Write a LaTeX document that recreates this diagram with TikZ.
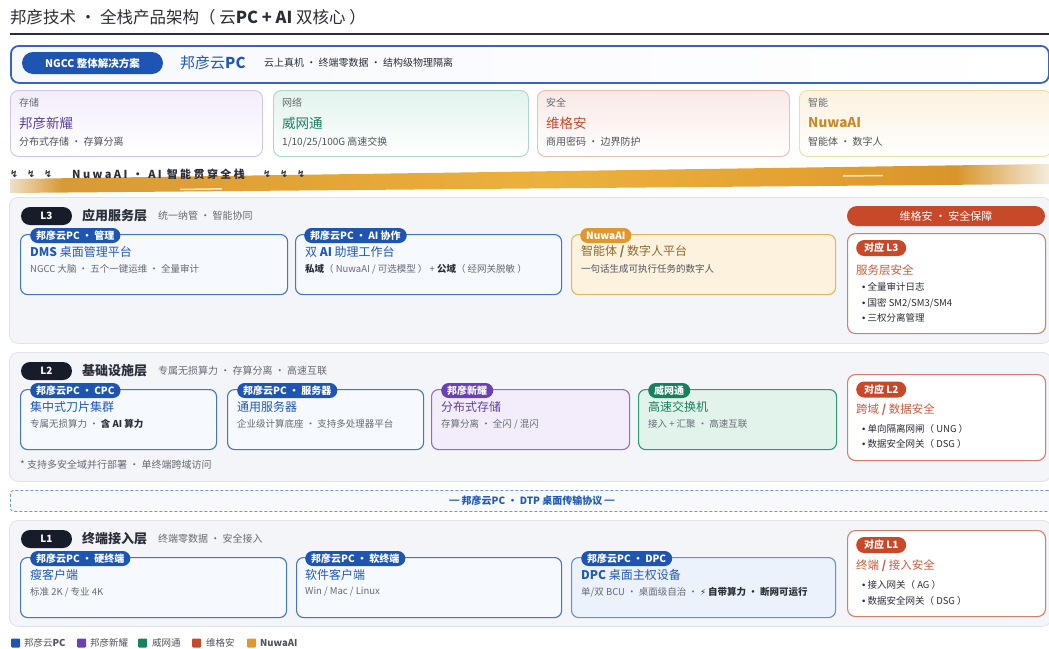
\documentclass[tikz,border=0pt]{standalone}
\usepackage{fontspec}
\setmainfont{Noto Sans CJK SC}
\newfontfamily\djv{DejaVu Sans}
\newfontfamily\lib{Liberation Sans}
\newfontfamily\spacedfont[LetterSpace=22]{Noto Sans CJK SC}
\newcommand\bul{{\lib •}\ }
\definecolor{ink}{HTML}{2A2E38}
\definecolor{gray6}{HTML}{666A72}
\definecolor{gray5}{HTML}{50545C}
\definecolor{blueTag}{HTML}{1F55B2}
\definecolor{blueT}{HTML}{2159B5}
\definecolor{blueBd}{HTML}{4474C4}
\definecolor{blueBg}{HTML}{F6F9FE}
\definecolor{dpcBg}{HTML}{ECF2FC}
\definecolor{dpcBd}{HTML}{6190D8}
\definecolor{purTag}{HTML}{6A40B5}
\definecolor{purBd}{HTML}{8E6CC8}
\definecolor{purBg}{HTML}{F3EDFB}
\definecolor{purT}{HTML}{5E3FA0}
\definecolor{grnTag}{HTML}{17805C}
\definecolor{grnBd}{HTML}{2E9A72}
\definecolor{grnBg}{HTML}{E2F3EC}
\definecolor{grnT}{HTML}{17805C}
\definecolor{orgTag}{HTML}{E0982E}
\definecolor{orgBd}{HTML}{E2B75A}
\definecolor{orgBg}{HTML}{FCF2DE}
\definecolor{orgT}{HTML}{93692A}
\definecolor{redTag}{HTML}{C8482A}
\definecolor{redBd}{HTML}{D77B6A}
\definecolor{redT}{HTML}{C85A40}
\definecolor{panelBg}{HTML}{F3F5F9}
\definecolor{panelBd}{HTML}{DEE2E9}
\definecolor{pillDark}{HTML}{161C29}
\definecolor{bandL}{HTML}{EFE0C6}
\definecolor{bandA}{HTML}{D89A35}
\definecolor{bandB}{HTML}{E3A436}
\definecolor{bandC}{HTML}{ECB13D}
\definecolor{bandD}{HTML}{E3A232}
\definecolor{bandE}{HTML}{D8952A}
\definecolor{bandR}{HTML}{F4ECDD}
\pgfdeclarehorizontalshading{bandshade}{100bp}{color(0bp)=(bandL); color(25bp)=(bandL); color(27.5bp)=(bandA); color(39bp)=(bandB); color(51bp)=(bandC); color(63bp)=(bandD); color(70.5bp)=(bandE); color(75bp)=(bandR); color(100bp)=(bandR)}
\tikzset{
  txt/.style={inner sep=0pt, anchor=west},
  panel/.style={anchor=north west, inner sep=0pt, rounded corners=9pt, fill=panelBg, draw=panelBd, line width=0.8pt},
  lpill/.style={fill=pillDark, rounded corners=9pt, minimum width=51pt, minimum height=18pt, inner sep=0pt, text=white, font=\fontsize{10}{12}\selectfont\bfseries},
  ltitle/.style={txt, text=ink, font=\fontsize{13}{15}\selectfont\bfseries},
  lsub/.style={txt, text=gray6, font=\fontsize{10}{12}\selectfont},
  card/.style={anchor=north west, inner sep=0pt, rounded corners=7pt, line width=1.1pt},
  tag/.style={anchor=west, inner xsep=6pt, inner ysep=0pt, minimum height=15pt, rounded corners=7.5pt, text=white, font=\fontsize{10}{12}\selectfont\bfseries},
  ctitle/.style={txt, font=\fontsize{12}{14}\selectfont},
  csub/.style={txt, text=gray6, font=\fontsize{9.5}{11}\selectfont},
  topcard/.style={anchor=north west, inner sep=0pt, rounded corners=8pt, line width=0.9pt, minimum height=66pt, bottom color=white},
  tclabel/.style={txt, text=gray6, font=\fontsize{10}{12}\selectfont},
  tcname/.style={txt, font=\fontsize{13.5}{16}\selectfont},
  tcsub/.style={txt, text=gray5, font=\fontsize{10}{12}\selectfont},
  secbox/.style={anchor=north west, inner sep=0pt, rounded corners=8pt, fill=white, draw=redBd, line width=1.1pt, minimum width=198pt},
  sectag/.style={anchor=west, fill=redTag, rounded corners=8pt, minimum width=50pt, minimum height=16pt, inner sep=0pt, text=white, font=\fontsize{10}{12}\selectfont\bfseries},
  sechead/.style={txt, text=redT, font=\fontsize{11.5}{14}\selectfont},
  bullet/.style={txt, text=ink, font=\fontsize{9.5}{11}\selectfont},
  legsq/.style={anchor=west, minimum width=9pt, minimum height=9pt, inner sep=0pt, rounded corners=1pt},
  legtx/.style={txt, text=gray5, font=\fontsize{9.5}{11}\selectfont},
  bolt/.style={txt, text=ink, font=\djv\fontsize{9.5}{10}\selectfont\bfseries}
}
\begin{document}
\begin{tikzpicture}[x=1pt,y=-1pt]
\useasboundingbox (0,0) rectangle (1049,648);
\fill[white] (0,0) rectangle (1049,648);

% title
\node[txt, text=ink, font=\fontsize{16.5}{19}\selectfont] (title) at (10,17) {邦彦技术 · 全栈产品架构（ 云{\bfseries PC + AI} 双核心 ）};
\coordinate (ruleL) at (10,34);
\coordinate (ruleR) at (1049,34);
\draw[ink, line width=2pt] (ruleL) -- (ruleR);

% top bar
\node[anchor=north west, inner sep=0pt, minimum width=1038pt, minimum height=37pt, rounded corners=8pt, left color=blueBg!80!blueBd!20, right color=white, draw=blueTag!90, line width=1.8pt] (topbar) at (10,45) {};
\node[fill=blueTag, rounded corners=11pt, minimum width=141pt, minimum height=22pt, inner sep=0pt, text=white, font=\fontsize{10.5}{12}\selectfont\bfseries] (ngcc) at (92.5,63) {NGCC 整体解决方案};
\node[txt, text=blueT, font=\fontsize{15}{18}\selectfont] (brand) at (180,63) {邦彦云{\bfseries PC}};
\node[txt, text=ink, font=\fontsize{10}{12}\selectfont] (slogan) at (264,63) {云上真机 · 终端零数据 · 结构级物理隔离};

% four product cards
\node[topcard, minimum width=252pt, top color=purBg, draw=purBd!40] (c1) at (10,90) {};
\node[tclabel] (c1a) at (19,103) {存储};
\node[tcname, text=purT] (c1b) at (19,123) {邦彦新耀};
\node[tcsub] (c1c) at (19,142) {分布式存储 · 存算分离};

\node[topcard, minimum width=255pt, top color=grnBg, draw=grnBd!40] (c2) at (273,90) {};
\node[tclabel] (c2a) at (282,103) {网络};
\node[tcname, text=grnT] (c2b) at (282,123) {威网通};
\node[tcsub] (c2c) at (282,142) {1/10/25/100G 高速交换};

\node[topcard, minimum width=252pt, top color=redTag!12, draw=redBd!50] (c3) at (537,90) {};
\node[tclabel] (c3a) at (546,103) {安全};
\node[tcname, text=redTag] (c3b) at (546,123) {维格安};
\node[tcsub] (c3c) at (546,142) {商用密码 · 边界防护};

\node[topcard, minimum width=252pt, top color=orgBg, draw=orgBd!50] (c4) at (799,90) {};
\node[tclabel] (c4a) at (808,103) {智能};
\node[tcname, text=orgTag!90!black, font=\fontsize{13.5}{16}\selectfont\bfseries] (c4b) at (808,123) {NuwaAI};
\node[tcsub] (c4c) at (808,142) {智能体 · 数字人};

% NuwaAI band
\shade[shading=bandshade] (10,179) -- (1049,164) -- (1049,184) -- (10,193) -- cycle;
\draw[white, opacity=0.75, line width=1.5pt] (180,189.5) -- (222,188.8);
\draw[white, opacity=0.75, line width=1.5pt] (843,176) -- (883,175.5);
\node[bolt] (b1) at (10,174) {↯};
\node[bolt] (b2) at (27,174) {↯};
\node[bolt] (b3) at (44,174) {↯};
\node[txt, text=ink, font=\spacedfont\fontsize{11}{13}\selectfont\bfseries] (bandtxt) at (72,174) {NuwaAI · AI 智能贯穿全栈};
\node[bolt] (b4) at (263,174) {↯};
\node[bolt] (b5) at (280,174) {↯};
\node[bolt] (b6) at (297,174) {↯};

% ===== L3 =====
\node[panel, minimum width=1042pt, minimum height=146pt] (p3) at (9,197) {};
\node[lpill] (l3p) at (46.5,216) {L3};
\node[ltitle] (l3t) at (82,216) {应用服务层};
\node[lsub] (l3s) at (158,216) {统一纳管 · 智能协同};

\node[card, minimum width=267pt, minimum height=60pt, fill=blueBg, draw=blueBd] (dms) at (20,234) {};
\node[tag, fill=blueTag] (dmsTag) at (30,235.5) {邦彦云PC · 管理};
\node[ctitle, text=blueT] (dmsT) at (30,252) {{\bfseries DMS} 桌面管理平台};
\node[csub] (dmsS) at (30,269) {NGCC 大脑 · 五个一键运维 · 全量审计};

\node[card, minimum width=266pt, minimum height=60pt, fill=blueBg, draw=blueBd] (aiw) at (295,234) {};
\node[tag, fill=blueTag] (aiTag) at (304,235.5) {邦彦云PC · AI 协作};
\node[ctitle, text=blueT] (aiT) at (305,252) {双 {\bfseries AI} 助理工作台};
\node[csub] (aiS) at (305,269) {{\color{ink}\bfseries 私域}（ NuwaAI / 可选模型 ） + {\color{ink}\bfseries 公域}（ 经网关脱敏 ）};

\node[card, minimum width=264pt, minimum height=60pt, fill=orgBg, draw=orgBd] (nuw) at (571,234) {};
\node[tag, fill=orgTag] (nuTag) at (580,235.5) {NuwaAI};
\node[ctitle, text=orgT] (nuT) at (581,252) {智能体 {\bfseries /} 数字人平台};
\node[csub, text=gray5] (nuS) at (581,269) {一句话生成可执行任务的数字人};

\node[fill=redTag, rounded corners=10pt, minimum width=198pt, minimum height=20pt, inner sep=0pt, text=white, font=\fontsize{11}{13}\selectfont] (secH) at (946,216) {维格安 · 安全保障};
\node[secbox, minimum height=100pt] (s3) at (847,233) {};
\node[sectag] (s3tag) at (856,248) {对应 L3};
\node[sechead] (s3h) at (856,270) {服务层安全};
\node[bullet] (s3a) at (862,287) {\bul 全量审计日志};
\node[bullet] (s3b) at (862,303) {\bul 国密 SM2/SM3/SM4};
\node[bullet] (s3c) at (862,318) {\bul 三权分离管理};

% ===== L2 =====
\node[panel, minimum width=1042pt, minimum height=129pt] (p2) at (9,352) {};
\node[lpill] (l2p) at (46.5,371) {L2};
\node[ltitle] (l2t) at (82,371) {基础设施层};
\node[lsub] (l2s) at (158,371) {专属无损算力 · 存算分离 · 高速互联};

\node[card, minimum width=196pt, minimum height=60pt, fill=blueBg, draw=blueBd] (cpc) at (20,389) {};
\node[tag, fill=blueTag] (cpcTag) at (30,390.5) {邦彦云PC · CPC};
\node[ctitle, text=blueT] (cpcT) at (30,407) {集中式刀片集群};
\node[csub] (cpcS) at (30,424) {专属无损算力 · {\color{ink}\bfseries 含 AI 算力}};

\node[card, minimum width=196pt, minimum height=60pt, fill=blueBg, draw=blueBd] (srv) at (227,389) {};
\node[tag, fill=blueTag] (srvTag) at (237,390.5) {邦彦云PC · 服务器};
\node[ctitle, text=blueT] (srvT) at (237,407) {通用服务器};
\node[csub] (srvS) at (237,424) {企业级计算底座 · 支持多处理器平台};

\node[card, minimum width=198pt, minimum height=60pt, fill=purBg, draw=purBd] (sto) at (431,389) {};
\node[tag, fill=purTag] (stoTag) at (441,390.5) {邦彦新耀};
\node[ctitle, text=purT] (stoT) at (441,407) {分布式存储};
\node[csub] (stoS) at (441,424) {存算分离 · 全闪 / 混闪};

\node[card, minimum width=198pt, minimum height=60pt, fill=grnBg, draw=grnBd] (sw) at (638,389) {};
\node[tag, fill=grnTag] (swTag) at (648,390.5) {威网通};
\node[ctitle, text=grnT] (swT) at (648,407) {高速交换机};
\node[csub] (swS) at (648,424) {接入 + 汇聚 · 高速互联};

\node[lsub] (note) at (20,465) {* 支持多安全域并行部署 · 单终端跨域访问};

\node[secbox, minimum height=86pt] (s2) at (847,374) {};
\node[sectag] (s2tag) at (856,389.5) {对应 L2};
\node[sechead] (s2h) at (856,410) {跨域 {\bfseries /} 数据安全};
\node[bullet] (s2a) at (862,429) {\bul 单向隔离网闸（ UNG ）};
\node[bullet] (s2b) at (862,444) {\bul 数据安全网关（ DSG ）};

% ===== DTP =====
\node[anchor=north west, inner sep=0pt, minimum width=1041pt, minimum height=21pt, rounded corners=3pt, fill=blueBg!70!blueBd!12, draw=blueBd!75, dash pattern=on 3pt off 2pt, line width=0.9pt] (dtp) at (10,490) {};
\node[inner sep=0pt, text=blueT, font=\fontsize{10}{12}\selectfont\bfseries] (dtpT) at (532,501) {━ 邦彦云PC · DTP 桌面传输协议 ━};

% ===== L1 =====
\node[panel, minimum width=1042pt, minimum height=106pt] (p1) at (9,520) {};
\node[lpill] (l1p) at (46.5,539) {L1};
\node[ltitle] (l1t) at (82,539) {终端接入层};
\node[lsub] (l1s) at (158,539) {终端零数据 · 安全接入};

\node[card, minimum width=266pt, minimum height=60pt, fill=blueBg, draw=blueBd] (thin) at (20,557) {};
\node[tag, fill=blueTag] (thinTag) at (30,558.5) {邦彦云PC · 硬终端};
\node[ctitle, text=blueT] (thinT) at (30,575) {瘦客户端};
\node[csub] (thinS) at (30,592) {标准 2K / 专业 4K};

\node[card, minimum width=265pt, minimum height=60pt, fill=blueBg, draw=blueBd] (soft) at (296,557) {};
\node[tag, fill=blueTag] (softTag) at (305,558.5) {邦彦云PC · 软终端};
\node[ctitle, text=blueT] (softT) at (305,575) {软件客户端};
\node[csub] (softS) at (305,592) {Win / Mac / Linux};

\node[card, minimum width=264pt, minimum height=60pt, fill=dpcBg, draw=dpcBd] (dpc) at (571,557) {};
\node[tag, fill=blueTag] (dpcTag) at (581,558.5) {邦彦云PC · DPC};
\node[ctitle, text=blueT] (dpcT) at (581,575) {{\bfseries DPC} 桌面主权设备};
\node[csub] (dpcS) at (581,592) {单/双 BCU · 桌面级自治 · {\color{ink}{\djv\fontsize{8.5}{10}\selectfont ⚡} \bfseries 自带算力 · 断网可运行}};

\node[secbox, minimum height=86pt] (s1) at (847,530) {};
\node[sectag] (s1tag) at (856,545) {对应 L1};
\node[sechead] (s1h) at (856,566) {终端 {\bfseries /} 接入安全};
\node[bullet] (s1a) at (862,585) {\bul 接入网关（ AG ）};
\node[bullet] (s1b) at (862,601) {\bul 数据安全网关（ DSG ）};

% ===== legend =====
\node[legsq, fill=blueTag] (lg1) at (11,643) {};
\node[legtx] (lg1t) at (24,643) {邦彦云{\bfseries PC}};
\node[legsq, fill=purTag] (lg2) at (77,643) {};
\node[legtx] (lg2t) at (90,643) {邦彦新耀};
\node[legsq, fill=grnTag] (lg3) at (138,643) {};
\node[legtx] (lg3t) at (152,643) {威网通};
\node[legsq, fill=redTag] (lg4) at (192,643) {};
\node[legtx] (lg4t) at (206,643) {维格安};
\node[legsq, fill=orgTag] (lg5) at (247,643) {};
\node[legtx] (lg5t) at (260,643) {\bfseries NuwaAI};
\end{tikzpicture}
\end{document}
